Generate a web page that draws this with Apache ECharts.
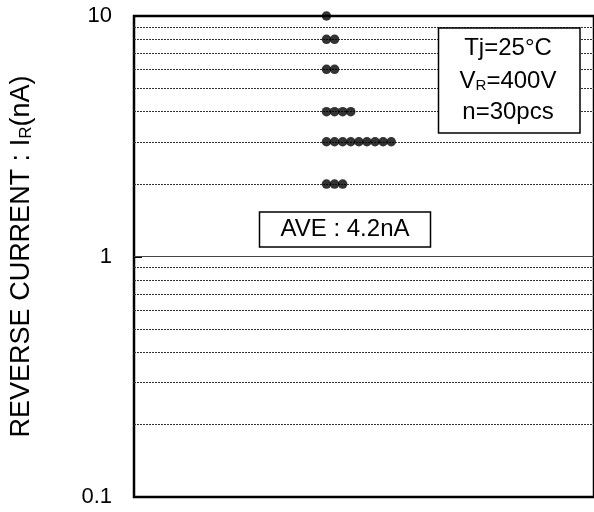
<!DOCTYPE html>
<html>
<head>
<meta charset="utf-8">
<script src="https://cdn.jsdelivr.net/npm/echarts@6/dist/echarts.min.js"></script>
<style>html,body{margin:0;padding:0;background:#fff}#c{width:594px;height:512px}</style>
</head>
<body>
<div id="c"></div>
<script>
// Measured reverse-current levels (nA) and number of samples at each level
var levels = [10, 8, 6, 4, 3, 2];
var counts = [1, 2, 2, 4, 9, 3];
// Dotted minor grid values and solid decade line
var minorGrid = [0.2, 0.3, 0.4, 0.5, 0.6, 0.7, 0.8, 0.9, 2, 3, 4, 5, 6, 7, 8, 9];
var decadeGrid = [1];
var yTicks = [0.1, 1, 10];
var conditionText = ['Tj=25°C', 'V_R=400V', 'n=30pcs'];
var aveText = 'AVE : 4.2nA';

var FONT = '"Liberation Sans", Arial, Helvetica, sans-serif';
var points = [];
levels.forEach(function (v, i) {
  for (var k = 0; k < counts[i]; k++) points.push([k, v]);
});

var chart = echarts.init(document.getElementById('c'));
chart.setOption({
  animation: false,
  grid: {
    left: 132, top: 16, right: -4, bottom: 15,
    show: true, borderColor: '#000', borderWidth: 2.5, backgroundColor: 'transparent'
  },
  xAxis: {
    type: 'value', min: -23.78, max: 33.05,
    show: false
  },
  yAxis: {
    type: 'log', logBase: 10, min: 0.1, max: 10,
    axisLine: { show: false, onZero: false },
    axisTick: { show: true, inside: true, length: 8, lineStyle: { color: '#000', width: 2 } },
    splitLine: { show: false },
    axisLabel: {
      fontSize: 22, color: '#000', fontFamily: FONT, margin: 22,
      formatter: function (v) { return yTicks.indexOf(+v) >= 0 ? String(+v) : ''; }
    },
    name: '{a|REVERSE CURRENT : I}{s|R}{a|(nA)}',
    nameLocation: 'middle',
    nameRotate: 90,
    nameGap: 99,
    nameTextStyle: {
      rich: {
        a: { fontSize: 27, color: '#000', fontFamily: FONT },
        s: { fontSize: 17, color: '#000', fontFamily: FONT, padding: [10, 0, 0, 0] }
      }
    }
  },
  series: [
    {
      type: 'scatter',
      data: points,
      symbol: 'circle',
      symbolSize: 9.5,
      itemStyle: { color: '#000' },
      z: 5,
      markLine: {
        silent: true,
        symbol: 'none',
        label: { show: false },
        data: minorGrid.map(function (v) {
          return { yAxis: v, lineStyle: { type: [2, 1], color: '#333', width: 1 } };
        }).concat(decadeGrid.map(function (v) {
          return { yAxis: v, lineStyle: { type: 'solid', color: '#444', width: 1 } };
        }))
      }
    }
  ],
  graphic: [
    {
      type: 'rect', z: 10,
      shape: { x: 438.5, y: 28, width: 141.5, height: 105 },
      style: { fill: '#fff', stroke: '#000', lineWidth: 1.5 }
    },
    {
      type: 'text', z: 11, x: 508, y: 48,
      style: { text: conditionText[0], font: '24px ' + FONT, fill: '#000', align: 'center', verticalAlign: 'middle' }
    },
    {
      type: 'text', z: 11, x: 508, y: 81,
      style: {
        text: '{a|V}{s|R}{a|=400V}', align: 'center', verticalAlign: 'middle',
        rich: {
          a: { fontSize: 24, fontFamily: FONT, fill: '#000' },
          s: { fontSize: 15, fontFamily: FONT, fill: '#000', padding: [10, 0, 0, 0] }
        }
      }
    },
    {
      type: 'text', z: 11, x: 508, y: 112,
      style: { text: conditionText[2], font: '24px ' + FONT, fill: '#000', align: 'center', verticalAlign: 'middle' }
    },
    {
      type: 'rect', z: 10,
      shape: { x: 259.5, y: 212, width: 171, height: 35 },
      style: { fill: '#fff', stroke: '#000', lineWidth: 1.5 }
    },
    {
      type: 'text', z: 11, x: 345, y: 229,
      style: { text: aveText, font: '24px ' + FONT, fill: '#000', align: 'center', verticalAlign: 'middle' }
    }
  ]
});
</script>
</body>
</html>
